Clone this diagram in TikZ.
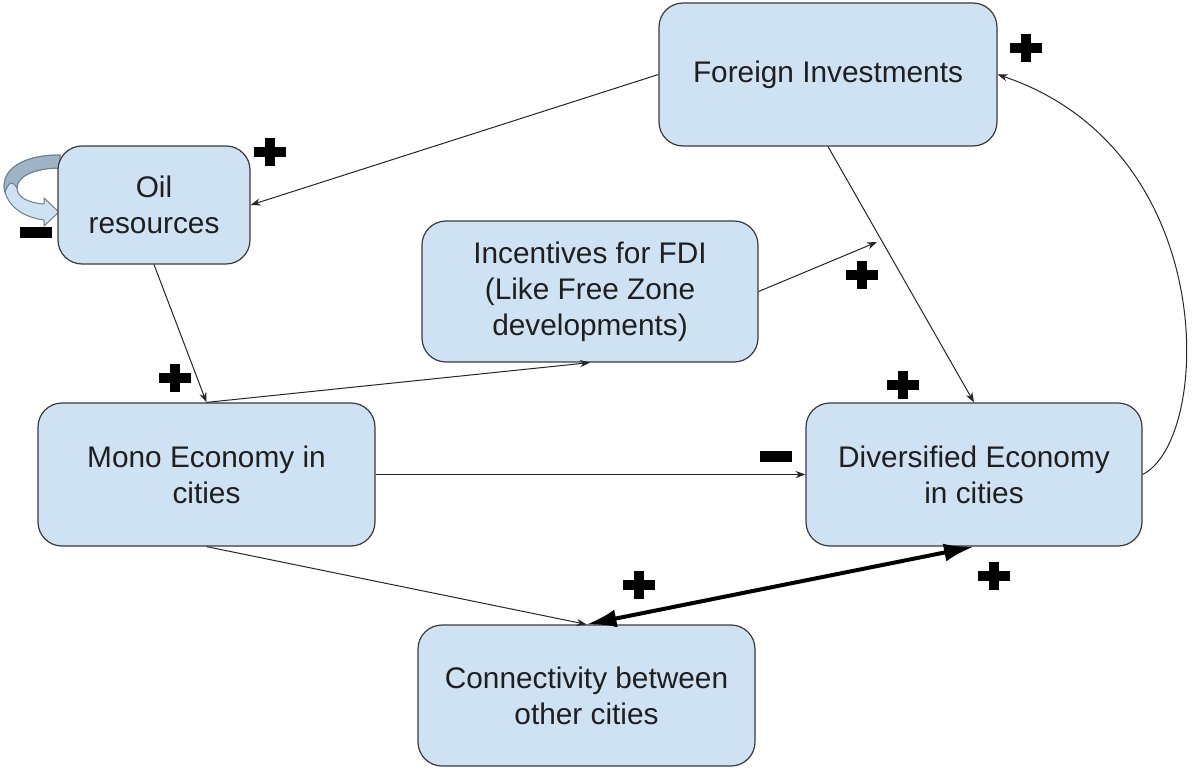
\documentclass[tikz,border=0pt]{standalone}
\usepackage{fontspec}
\setmainfont{Liberation Sans}
\usetikzlibrary{arrows.meta}
\definecolor{boxfill}{HTML}{CFE2F3}
\definecolor{boxline}{HTML}{3A3A3A}
\definecolor{loopdark}{HTML}{9FB3C6}
\definecolor{loopline}{HTML}{6E7F8F}
\tikzset{
  box/.style={draw=boxline, line width=0.6pt, fill=boxfill, rounded corners=12pt,
    align=center, font=\fontsize{14.9}{18}\selectfont, text=black!88, inner sep=0pt},
  conn/.style={draw=black!85, line width=0.5pt, -{Stealth[length=5pt,width=3.6pt]}},
  thickconn/.style={draw=black, line width=2pt, {Latex[length=15pt,width=9pt]}-{Latex[length=15pt,width=9pt]}},
  plussign/.pic={\fill[black] (-16,-5) rectangle (16,5); \fill[black] (-5,-14) rectangle (5,14);},
  minussign/.pic={\fill[black] (-16,-5.5) rectangle (16,5.5);}
}
\begin{document}
\begin{tikzpicture}[x=0.5pt,y=-0.5pt]
\useasboundingbox (0,0) rectangle (1192,769);
% self loop on Oil resources
\path[fill=boxfill, draw=loopline, line width=0.5pt]
  (60,155) .. controls (15,155) and (0,175) .. (5,192)
  .. controls (10,210) and (28,218) .. (44,220)
  -- (44,226) -- (59,212) -- (44,198) -- (44,204)
  .. controls (28,203) and (17,197) .. (17,188)
  .. controls (17,176) and (35,168) .. (60,168) -- cycle;
\path[fill=loopdark, draw=loopline, line width=0.5pt]
  (60,155) .. controls (15,155) and (0,175) .. (5,192)
  .. controls (9,182) and (12,180) .. (17,188)
  .. controls (17,176) and (35,168) .. (60,168) -- cycle;
% nodes
\node[box, minimum width=169pt, minimum height=71.5pt] (fi) at (828,74.5) {Foreign Investments};
\node[box, minimum width=96pt, minimum height=59pt] (oil) at (154,205) {Oil\\resources};
\node[box, minimum width=168pt, minimum height=70.5pt] (inc) at (590,291.5) {Incentives for FDI\\(Like Free Zone\\developments)};
\node[box, minimum width=168.5pt, minimum height=71.5pt] (mono) at (206.5,474.5) {Mono Economy in\\cities};
\node[box, minimum width=168pt, minimum height=71.5pt] (div) at (974,474.5) {Diversified Economy\\in cities};
\node[box, minimum width=168.5pt, minimum height=70.5pt] (con) at (586.5,695.5) {Connectivity between\\other cities};
\coordinate (incend) at (877,242);
% connectors
\draw[conn] (fi.west) -- (oil.east);
\draw[conn] (oil.south) -- (mono.north);
\draw[conn] (mono.north) -- (inc.south);
\draw[conn] (inc.east) -- (incend);
\draw[conn] (fi.south) -- (div.north);
\draw[conn] (mono.east) -- (div.west);
\draw[conn] (div.east) .. controls (1212,440) and (1222,150) .. (fi.east);
\draw[conn] (mono.south) -- (con.north);
\draw[thickconn] (con.north) -- (div.south);
% polarity signs
\pic at (270,152) {plussign};
\pic at (1026,48) {plussign};
\pic at (862,275) {plussign};
\pic at (175,378) {plussign};
\pic at (903,385) {plussign};
\pic at (639,585) {plussign};
\pic at (994,576) {plussign};
\pic at (36,233) {minussign};
\pic at (776,456) {minussign};
\end{tikzpicture}
\end{document}
